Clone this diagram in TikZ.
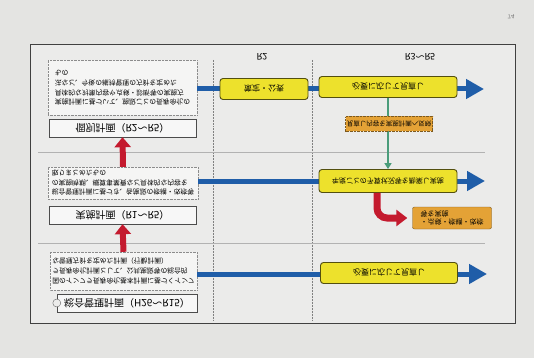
\documentclass[tikz,border=0pt]{standalone}
\usepackage{fontspec}
\setmainfont{Noto Sans CJK JP}
\usetikzlibrary{arrows.meta,positioning}

\definecolor{paper}{HTML}{E4E4E2}
\definecolor{sheet}{HTML}{EBEBEA}
\definecolor{flowblue}{HTML}{1F5DA8}
\definecolor{noteyellow}{HTML}{EDE12C}
\definecolor{noteorange}{HTML}{E4A236}
\definecolor{planred}{HTML}{C41A2E}
\definecolor{linkgreen}{HTML}{4A9C7A}

\tikzset{
  desc/.style={draw=black!45, densely dotted, fill=white!50!sheet, align=left, inner sep=2pt, font=\fontsize{6.8}{9.6}\selectfont},
  plan/.style={draw=black!70, fill=white!60!sheet, minimum width=147pt, minimum height=18pt, inner sep=1pt, font=\fontsize{10}{12}\selectfont},
  todo/.style={draw=black!65!noteyellow, line width=0.9pt, fill=noteyellow, rounded corners=3pt, minimum height=21pt, inner sep=1pt, font=\fontsize{8}{9}\selectfont},
  memo/.style={draw=black!45!noteorange, fill=noteorange, inner sep=1pt, font=\fontsize{6.5}{8.5}\selectfont},
  flow/.style={draw=flowblue, line width=5pt, -{Triangle[length=18pt,width=19pt]}},
  upflow/.style={draw=planred, line width=6pt, -{Triangle[length=10pt,width=16pt]}},
  colline/.style={draw=black!50, densely dotted, line width=0.5pt},
  rowline/.style={draw=black!30, line width=0.6pt},
}

\begin{document}
\begin{tikzpicture}[x=1pt, y=1pt, yscale=-1, every node/.append style={transform shape}]
% paper and frame
\fill[paper] (0,0) rectangle (534,358);
\useasboundingbox (0,0) rectangle (534,358);
\fill[sheet] (30,44) rectangle (515,323);
\draw[black!75, line width=0.9pt] (30,44) rectangle (515,323);
\node[text=black!55, font=\fontsize{6}{7}\selectfont] (pageNo) at (511,17) {74};

% column heads and grid
\node[font=\fontsize{9}{10}\selectfont] (colR2) at (262,57) {R2};
\node[font=\fontsize{9}{10}\selectfont] (colR35) at (420,57) {R3～R5};
\draw[colline] (213,60) -- (213,321);
\draw[colline] (312,60) -- (312,321);
\draw[rowline] (38,152) -- (485,152);
\draw[rowline] (38,243) -- (485,243);

% left column
\node[desc, minimum width=149pt, minimum height=55pt] (indivText) at (122.5,88) {実施計画に基づいて、施設ごとの長寿命化の\\具体的な対策内容や点検・診断等の実施方\\法など、今後の維持管理の方針を定めた\\もの};
\node[plan] (indivPlan) at (122.5,128) {個別計画（R2～R5）};
\node[desc, minimum width=150pt, minimum height=32pt] (implText) at (123,183) {総合管理計画に基づき、各施設の修繕・改修等\\の実施時期、概算事業費など具体的な内容を\\取りまとめたもの};
\node[plan] (implPlan) at (122.5,215) {実施計画（R1～R5）};
\node[desc, minimum width=147pt, minimum height=38pt] (mgmtText) at (123.5,271) {国のインフラ長寿命化基本計画に基づくインフ\\ラ長寿命化計画として、公共施設等の総合的\\な管理方針を定めた計画（行動計画）};
\node[plan, minimum width=140pt] (mgmtPlan) at (127,303) {総合管理計画（H26～R15）};
\draw[black!60, fill=sheet] (mgmtPlan.west) circle [radius=4pt];

\draw[upflow] (implText.south) -- (indivPlan.north);
\draw[upflow] (mgmtText.south) -- (implPlan.north);

% flow arrows
\coordinate (indivEnd) at (484,89);
\coordinate (implEnd) at (485,181);
\coordinate (mgmtEnd) at (487,274);
\draw[flow] (indivText.east |- indivEnd) -- (indivEnd);
\draw[flow] (implText.east |- implEnd) -- (implEnd);
\draw[flow] (mgmtText.east |- mgmtEnd) -- (mgmtEnd);

% steps
\node[todo, minimum width=88pt] (draftR2) at (264,89) {策定・公表};
\node[todo, minimum width=138pt] (reviewIndiv) at (388,87) {必要に応じて見直し};
\node[todo, minimum width=138pt, minimum height=23pt, font=\fontsize{7}{8}\selectfont] (runImpl) at (388,181) {年度ごとの予算状況等を勘案し実施};
\node[todo, minimum width=137pt] (reviewMgmt) at (389,273) {必要に応じて見直し};

\draw[linkgreen, line width=1.6pt, -{Triangle[length=6pt,width=7pt]}] (reviewIndiv) -- (runImpl);
\node[memo, densely dotted, minimum width=87pt, minimum height=15pt] (feedNote) at (389,124) {見直し内容を実施計画へ反映};

\node[memo, align=left, rounded corners=2pt, minimum width=79pt, minimum height=22pt, font=\fontsize{7}{8.5}\selectfont] (repairNote) at (452,218) {・点検・修繕・改修\\等を実施};
\draw[planred, line width=7pt, rounded corners=10pt, -{Triangle[length=11pt,width=16pt]}] ([xshift=-11pt]runImpl.north) |- ([xshift=-5pt]repairNote.west);
\end{tikzpicture}
\end{document}
